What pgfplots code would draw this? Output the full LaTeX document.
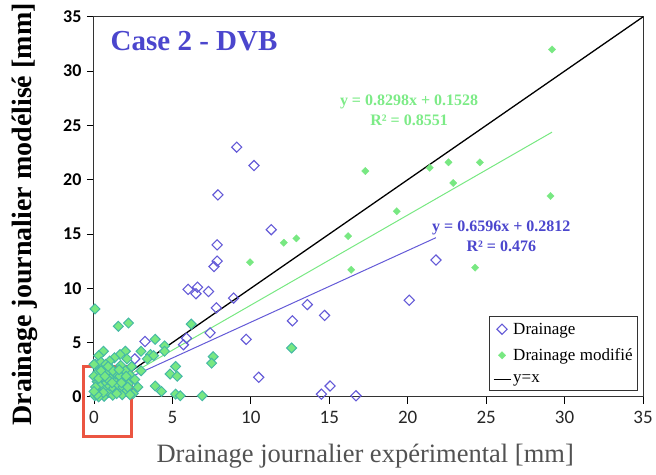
\documentclass[border=0pt]{standalone}
\usepackage{fontspec}
\setmainfont{Liberation Serif}
\newfontfamily\carlito{Carlito}
\usepackage{pgfplots}
\pgfplotsset{compat=1.18}
\definecolor{blueS}{RGB}{100,90,215}
\definecolor{blueT}{RGB}{75,70,205}
\definecolor{greenS}{RGB}{120,232,130}
\definecolor{greenT}{RGB}{125,235,135}
\definecolor{tealS}{RGB}{70,185,165}
\definecolor{redR}{RGB}{235,85,65}

\pgfplotstableread{
x y
9.1 23.0
10.2 21.3
7.9 18.6
11.3 15.4
7.85 14.0
7.85 12.5
7.65 12.0
6.0 9.9
6.6 10.1
6.5 9.5
7.3 9.7
8.9 9.1
7.8 8.2
7.4 5.9
9.7 5.3
5.9 5.4
5.7 4.8
13.6 8.5
14.7 7.5
12.65 7.0
10.5 1.8
15.05 1.0
14.5 0.25
16.7 0.1
20.1 8.9
21.8 12.6
3.25 5.1
2.6 3.5
}\blueonly

\pgfplotstableread{
x y
29.2 32.0
17.3 20.8
21.4 21.1
22.6 21.6
24.6 21.6
22.9 19.7
19.3 17.1
16.2 14.8
12.1 14.2
12.9 14.6
9.95 12.4
29.1 18.5
24.3 11.9
16.4 11.7
}\greenonly

\pgfplotstableread{
x y
12.6 4.5
6.2 6.7
3.9 5.3
4.5 4.7
4.5 4.2
3.6 3.9
7.6 3.7
7.5 3.1
5.2 2.8
4.85 2.1
5.3 1.9
3.9 1.0
4.3 0.5
5.2 0.25
5.5 0.1
6.9 0.1
0.06 8.1
1.55 6.5
2.2 6.8
0.6 4.2
2.0 4.2
1.66 3.9
2.1 3.5
3.0 4.2
3.4 3.5
3.8 3.8
0.3 3.8
1.3 3.6
0.05 0.1
0.15 0.6
0.2 1.4
0.25 2.3
0.35 0.3
0.4 1.0
0.5 1.8
0.55 2.7
0.65 0.05
0.7 0.7
0.8 1.3
0.85 2.2
0.95 0.4
1.0 1.0
1.05 1.7
1.1 2.6
1.2 0.15
1.25 0.8
1.35 1.4
1.4 2.1
1.5 0.5
1.55 1.1
1.65 1.9
1.7 2.9
1.8 0.2
1.85 0.9
1.95 1.5
2.0 2.4
2.1 0.6
2.2 1.2
2.3 2.0
0.1 3.0
0.45 3.2
1.0 3.3
0.0 1.9
0.3 0.0
2.5 0.3
2.6 1.6
2.8 0.9
3.0 2.4
2.4 2.8
0.75 3.0
0.1 0.9
0.3 1.7
0.6 0.4
0.9 1.6
1.2 2.4
1.45 0.3
1.75 1.3
2.05 1.9
0.45 2.4
0.2 0.2
0.7 1.9
1.15 1.3
1.6 2.5
2.15 0.9
0.0 0.5
0.0 3.0
0.9 2.8
2.3 0.2
}\both

\begin{document}
\begin{tikzpicture}
\begin{axis}[
  scale only axis, width=549pt, height=380pt,
  xmin=0, xmax=35, ymin=0, ymax=35,
  xtick={0,5,...,35}, ytick={0,5,...,35},
  tick align=outside, xtick pos=bottom, ytick pos=left,
  major tick length=7pt,
  tick style={black, line width=0.9pt},
  axis line style={black!80, line width=1pt},
  /pgf/number format/assume math mode=true,
  x tick label style={font=\carlito\fontsize{19}{19}\selectfont, text=black!85, yshift=-4pt},
  y tick label style={font=\carlito\bfseries\fontsize{18}{18}\selectfont, xshift=-2pt},
  clip=false,
  legend style={at={(rel axis cs:0.991,0.016)}, anchor=south east,
    font=\fontsize{17}{19}\selectfont, draw=black!80, line width=0.8pt,
    inner xsep=3pt, inner ysep=4pt, row sep=9pt},
  legend cell align=left,
]
\addplot[only marks, mark=square, mark size=3.6pt, mark options={rotate=45, draw=blueS, line width=1.1pt, fill=none}] table[x=x,y=y]{\blueonly};
\addlegendentry{Drainage}
\addplot[only marks, mark=square*, mark size=3.5pt, mark options={rotate=45, draw=tealS, fill=greenS, line width=1pt}, forget plot] table[x=x,y=y]{\both};
\addplot[only marks, mark=square*, mark size=2.6pt, mark options={rotate=45, draw=greenS, fill=greenS, line width=0.3pt}] table[x=x,y=y]{\greenonly};
\addlegendentry{Drainage modifié}
\addplot[black, line width=1.3pt, no marks] coordinates {(0,0) (35,35)};
\addlegendentry{y=x}
\addplot[greenS, line width=1pt, no marks, forget plot] coordinates {(0,0.1528) (29.2,24.38)};
\addplot[blueS, line width=1pt, no marks, forget plot] coordinates {(0,0.2812) (21.8,14.66)};

\node[anchor=west, text=blueT, font=\bfseries\fontsize{29}{29}\selectfont] at (axis description cs:0.024,0.937) {Case 2 - DVB};
\node[align=center, text=greenT, font=\bfseries\fontsize{16}{20}\selectfont] at (axis description cs:0.574,0.755) {y = 0.8298x + 0.1528\\R² = 0.8551};
\node[align=center, text=blueT, font=\bfseries\fontsize{16}{20}\selectfont] at (axis description cs:0.742,0.422) {y = 0.6596x + 0.2812\\R² = 0.476};
\node[text=black!68, font=\fontsize{26.5}{26.5}\selectfont] at (axis description cs:0.494,-0.155) {Drainage journalier expérimental [mm]};
\node[rotate=90, font=\bfseries\fontsize{28}{28}\selectfont] at (axis description cs:-0.126,0.48) {Drainage journalier modélisé [mm]};
\draw[redR, line width=3pt] (axis cs:-0.7,-3.68) rectangle (axis cs:2.36,2.76);
\path (rel axis cs:0,0) ++(-94pt,-78pt) -- ++(656pt,474pt);
\end{axis}
\end{tikzpicture}
\end{document}
